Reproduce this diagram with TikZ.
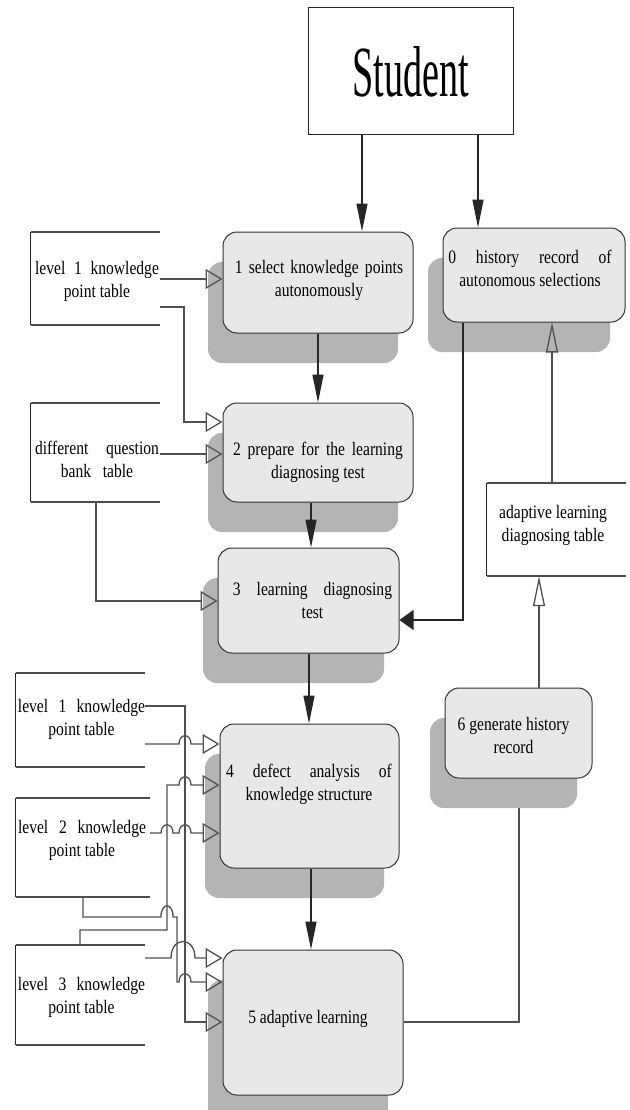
\documentclass[tikz,border=0pt]{standalone}
\usepackage{fontspec}
\setmainfont{Liberation Serif}
\usepackage{graphicx}
\usetikzlibrary{arrows.meta,shadows}
\pgfdeclarelayer{bottom}
\pgfsetlayers{bottom,main}
\definecolor{boxfill}{HTML}{E8E8E8}
\definecolor{shadowc}{HTML}{B4B4B4}
\definecolor{linec}{HTML}{505050}
\newcommand{\lbl}[1]{\scalebox{0.82}[1]{\begin{tabular}[t]{@{}c@{}}#1\end{tabular}}}
\newcommand{\jl}[2]{\makebox[#1pt][s]{#2}}
\newcommand{\datastore}[1]{%
  \draw[stedge] (#1.north east) -- (#1.north west);
  \draw[stedge] (#1.south west) -- (#1.south east);
  \draw[stleft] (#1.north west) -- (#1.south west);}
\tikzset{
  proc/.style={draw=black!80, line width=1pt, fill=boxfill, rounded corners=14pt, inner sep=0pt,
    general shadow={fill=shadowc, shadow xshift=-15pt, shadow yshift=-30pt}},
  store/.style={draw=none, inner sep=0pt},
  stedge/.style={draw=black!70, line width=1.8pt},
  stleft/.style={draw=black!85, line width=1pt},
  txt/.style={font=\fontsize{19}{23}\selectfont, inner sep=0pt, anchor=base},
  conn/.style={draw=linec, line width=1.3pt},
  blk/.style={conn, draw=black!85, -{Triangle[length=28pt,width=11pt]}},
  blkw/.style={conn, draw=black!85, -{Triangle[length=14pt,width=20pt]}},
  opn/.style={conn, -{Triangle[open,length=17pt,width=20pt]}},
  opnn/.style={conn, -{Triangle[open,length=30pt,width=12pt]}}
}
\begin{document}
\begin{tikzpicture}[x=1pt,y=-1pt]
\begin{pgfonlayer}{bottom}
\fill[white] (0,0) rectangle (629,1110);
\end{pgfonlayer}
\useasboundingbox (0,0) rectangle (629,1110);

% Student
\node[draw=black!85, line width=1pt, fill=white, minimum width=205pt, minimum height=127pt, inner sep=0pt,
  font=\fontsize{72}{80}\selectfont] (st) at (410.5,71.5) {\scalebox{0.53}[1]{Student}};

% process boxes
\node[proc, minimum width=182pt, minimum height=94pt] (p0) at (534,275) {};
\node[proc, minimum width=190pt, minimum height=101pt] (p1) at (318,282.5) {};
\node[proc, minimum width=190pt, minimum height=99pt] (p2) at (318,452.5) {};
\node[proc, minimum width=181pt, minimum height=105pt] (p3) at (308.5,600.5) {};
\node[proc, minimum width=179pt, minimum height=144pt] (p4) at (309.5,796) {};
\node[proc, minimum width=180pt, minimum height=145pt] (p5) at (313,1022.5) {};
\node[proc, minimum width=147pt, minimum height=90pt] (p6) at (518.5,733) {};

\node[txt] (p0t) at (530,263) {\lbl{\jl{199}{0 history record of}\\autonomous selections}};
\node[txt] (p1t) at (319,273) {\lbl{\jl{205}{1 select knowledge points}\\autonomously}};
\node[txt] (p2t) at (318,455) {\lbl{\jl{207}{2 prepare for the learning}\\diagnosing test}};
\node[txt] (p3t) at (312.5,595) {\lbl{\jl{194}{3 learning diagnosing}\\test}};
\node[txt] (p4t) at (309,777) {\lbl{\jl{202}{4 defect analysis of}\\knowledge structure}};
\node[txt] (p5t) at (308,1023) {\lbl{5 adaptive learning}};
\node[txt] (p6t) at (513.5,730) {\lbl{6 generate history\\record}};

% data stores
\node[store, minimum width=129pt, minimum height=93pt] (t1) at (95.5,278.5) {};
\node[store, minimum width=129pt, minimum height=99pt] (t2) at (95.5,452.5) {};
\node[store, minimum width=139pt, minimum height=93pt] (tad) at (556.5,529.5) {};
\node[store, minimum width=129pt, minimum height=94pt] (t4) at (80.5,720) {};
\node[store, minimum width=134pt, minimum height=99pt] (t5) at (83,847.5) {};
\node[store, minimum width=129pt, minimum height=100pt] (t6) at (80.5,995) {};
\datastore{t1}
\datastore{t2}
\datastore{tad}
\datastore{t4}
\datastore{t5}
\datastore{t6}

\node[txt] (t1t) at (97,274) {\lbl{\jl{151}{level 1 knowledge}\\point table}};
\node[txt] (t2t) at (97,454) {\lbl{\jl{151}{different question}\\\jl{88}{bank table}}};
\node[txt] (tadt) at (553,518) {\lbl{adaptive learning\\diagnosing table}};
\node[txt] (t4t) at (81.5,712) {\lbl{\jl{155}{level 1 knowledge}\\point table}};
\node[txt] (t5t) at (82,833) {\lbl{\jl{156}{level 2 knowledge}\\point table}};
\node[txt] (t6t) at (81.5,990) {\lbl{\jl{155}{level 3 knowledge}\\point table}};

% black flow arrows
\draw[blk] (st.south -| 362,0) -- (p1.north -| 362,0);
\draw[blk] (st.south -| 478,0) -- (p0.north -| 478,0);
\draw[blk] (p1.south -| 318,0) -- (p2.north -| 318,0);
\draw[blk] (p2.south -| 311,0) -- (p3.north -| 311,0);
\draw[blk] (p3.south -| 309,0) -- (p4.north -| 309,0);
\draw[blk] (p4.south -| 311,0) -- (p5.north -| 311,0);
\draw[blkw] (p0.south -| 463,0) |- (p3.east |- 0,620);

% right side
\draw[opnn] (tad.north -| 552,0) -- (p0.south -| 552,0);
\draw[opnn] (p6.north -| 539,0) -- (tad.south -| 539,0);
\begin{pgfonlayer}{bottom}
\draw[conn] (p5.east |- 0,1022) -| (p6.south -| 519,0);
\end{pgfonlayer}

% upper left stores
\draw[opn] (t1.east |- 0,279) -- (p1.west |- 0,279);
\draw[opn] (t1.east |- 0,307) -| (184,422) -- (p2.west |- 0,422);
\draw[opn] (t2.east |- 0,454) -- (p2.west |- 0,454);
\draw[opn] (t2.south -| 96,0) |- (p3.west |- 0,601);

% lower left stores
\draw[opn] (t4.east |- 0,706) -- (185,706) -- (185,1022) -- (p5.west |- 0,1022);
\draw[opn] (t4.east |- 0,744) -- (179,744) .. controls (179,733) and (191,733) .. (191,744) -- (p4.west |- 0,744);
\draw[opn] (t6.north -| 80,0) -- (80,930) -- (167,930) -- (167,785) -- (179,785)
  .. controls (179,774) and (191,774) .. (191,785) -- (p4.west |- 0,785);
\draw[opn] (t5.east |- 0,833) -- (161,833) .. controls (161,822) and (173,822) .. (173,833)
  -- (179,833) .. controls (179,822) and (191,822) .. (191,833) -- (p4.west |- 0,833);
\draw[opn] (t5.south -| 83,0) -- (83,917) -- (161,917) .. controls (161,902) and (173,902) .. (173,917)
  -- (177,917) -- (177,982) -- (179,982) .. controls (179,971) and (191,971) .. (191,982) -- (p5.west |- 0,982);
\draw[opn] (t6.east |- 0,958) -- (171,958) .. controls (171,936) and (195,936) .. (195,958) -- (p5.west |- 0,958);
\end{tikzpicture}
\end{document}
